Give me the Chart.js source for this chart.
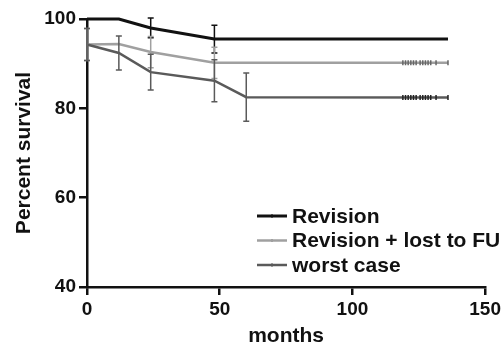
<!DOCTYPE html>
<html>
<head>
<meta charset="utf-8">
<script src="https://cdn.jsdelivr.net/npm/chart.js@4.4.1/dist/chart.umd.min.js"></script>
<style>
  html, body { margin: 0; padding: 0; background: #fff; }
  #wrap { width: 504px; height: 349px; }
</style>
</head>
<body>
<div id="wrap"><canvas id="c" width="504" height="349"></canvas></div>
<script>
// ---- data ----
const seriesNames = ["Revision", "Revision + lost to FU", "worst case"];
const monthsRevision = [0, 12, 24, 48, 136];
const revision = [100, 100, 98.0, 95.5, 95.5];
const revisionErr = [0, 0, 2.2, 3.1, 0];

const monthsLost = [0, 12, 24, 48, 136];
const lost = [94.3, 94.4, 92.6, 90.2, 90.2];
const lostErr = [3.6, 0, 3.5, 3.5, 0];

const monthsWorst = [0, 12, 24, 48, 60, 136];
const worst = [94.3, 92.4, 88.1, 86.2, 82.5, 82.4];
const worstErr = [3.6, 3.8, 4.0, 4.7, 5.4, 0];

const censorMonths = [119, 120, 121, 122, 123, 124, 125.5, 126.5, 127.5, 128.5, 129.5, 131.5, 136];
const censorLost = censorMonths.map(() => 90.2);
const censorWorst = censorMonths.map(() => 82.4);

const xTickLabels = ["0", "50", "100", "150"];
const yTickLabels = ["40", "60", "80", "100"];

const colRevision = '#111111';
const colLost = '#a0a0a0';
const colWorst = '#5a5a5a';

const FONT = "'Liberation Sans', Arial, sans-serif";

function pts(xs, ys) { return xs.map((x, i) => ({ x: x, y: ys[i] })); }

const overlay = {
  id: 'overlay',
  afterDatasetsDraw(chart) {
    const ctx = chart.ctx;
    const a = chart.chartArea;
    const ys = chart.scales.y;
    chart.data.datasets.forEach((ds, di) => {
      if (!ds.errors) return;
      const meta = chart.getDatasetMeta(di);
      ctx.save();
      ctx.strokeStyle = ds.borderColor;
      ctx.lineWidth = 1.5;
      meta.data.forEach((el, i) => {
        const e = ds.errors[i];
        if (!e) return;
        const v = ds.data[i].y;
        const x = el.x;
        const y1 = ys.getPixelForValue(v + e);
        const y2 = ys.getPixelForValue(v - e);
        ctx.beginPath();
        ctx.moveTo(x, y1); ctx.lineTo(x, y2);
        ctx.moveTo(x - 3, y1); ctx.lineTo(x + 3, y1);
        ctx.moveTo(x - 3, y2); ctx.lineTo(x + 3, y2);
        ctx.stroke();
      });
      ctx.restore();
    });
    const items = chart.data.datasets.filter(d => d.legendLabel);
    ctx.save();
    ctx.font = "bold 21px " + FONT;
    ctx.textBaseline = 'middle';
    items.forEach((d, i) => {
      const y = a.top + 197 + i * 24.5;
      const x0 = a.left + 170;
      ctx.strokeStyle = d.borderColor;
      ctx.lineWidth = d.borderWidth;
      ctx.beginPath();
      ctx.moveTo(x0, y); ctx.lineTo(x0 + 30, y);
      ctx.stroke();
      ctx.fillStyle = d.borderColor;
      ctx.fillRect(x0 + 14, y - 1.5, 2, 3);
      ctx.fillStyle = '#111';
      ctx.fillText(d.legendLabel, x0 + 35, y + 1);
    });
    ctx.restore();
  }
};

new Chart(document.getElementById('c'), {
  type: 'scatter',
  data: {
    datasets: [
      { legendLabel: seriesNames[0], data: pts(monthsRevision, revision), errors: revisionErr,
        borderColor: colRevision, borderWidth: 3, showLine: true, pointRadius: 0, tension: 0, order: 0, clip: false },
      { legendLabel: seriesNames[1], data: pts(monthsLost, lost), errors: lostErr,
        borderColor: colLost, borderWidth: 2.5, showLine: true, pointRadius: 0, tension: 0, order: 2, clip: false },
      { legendLabel: seriesNames[2], data: pts(monthsWorst, worst), errors: worstErr,
        borderColor: colWorst, borderWidth: 2.5, showLine: true, pointRadius: 0, tension: 0, order: 1, clip: false },
      { data: pts(censorMonths, censorLost), borderColor: '#666', backgroundColor: '#666',
        pointStyle: 'line', rotation: 90, pointRadius: 2.5, borderWidth: 1.5, showLine: false },
      { data: pts(censorMonths, censorWorst), borderColor: '#222', backgroundColor: '#222',
        pointStyle: 'line', rotation: 90, pointRadius: 2.5, borderWidth: 1.5, showLine: false }
    ]
  },
  options: {
    responsive: false,
    animation: false,
    events: [],
    layout: { padding: { top: 19, right: 16, left: 0, bottom: 0 } },
    plugins: { legend: { display: false }, tooltip: { enabled: false } },
    scales: {
      x: {
        type: 'linear', min: 0, max: 150,
        afterFit(s) { s.height = 62; },
        border: { display: true, color: '#111', width: 2.5 },
        grid: { display: true, drawOnChartArea: false, drawTicks: true, tickLength: 8, color: '#111', tickColor: '#111', lineWidth: 2.5, tickWidth: 2.5 },
        ticks: { stepSize: 50, color: '#111', font: { family: FONT, size: 19, weight: 'bold' }, padding: 3, maxRotation: 0,
                 callback: (v, i) => xTickLabels[i] },
        title: { display: true, text: 'months', color: '#111', font: { family: FONT, size: 21, weight: 'bold' }, padding: { top: 10, bottom: 0 } }
      },
      y: {
        type: 'linear', min: 40, max: 100,
        afterFit(s) { s.width = 87; },
        border: { display: true, color: '#111', width: 2.5 },
        grid: { display: true, drawOnChartArea: false, drawTicks: true, tickLength: 8, color: '#111', tickColor: '#111', lineWidth: 2.5, tickWidth: 2.5 },
        ticks: { stepSize: 20, color: '#111', font: { family: FONT, size: 19, weight: 'bold' }, padding: 3,
                 callback: (v, i) => yTickLabels[i] },
        title: { display: true, text: 'Percent survival', color: '#111', font: { family: FONT, size: 21, weight: 'bold' }, padding: { top: 12, bottom: 0 } }
      }
    }
  },
  plugins: [overlay]
});
</script>
</body>
</html>
